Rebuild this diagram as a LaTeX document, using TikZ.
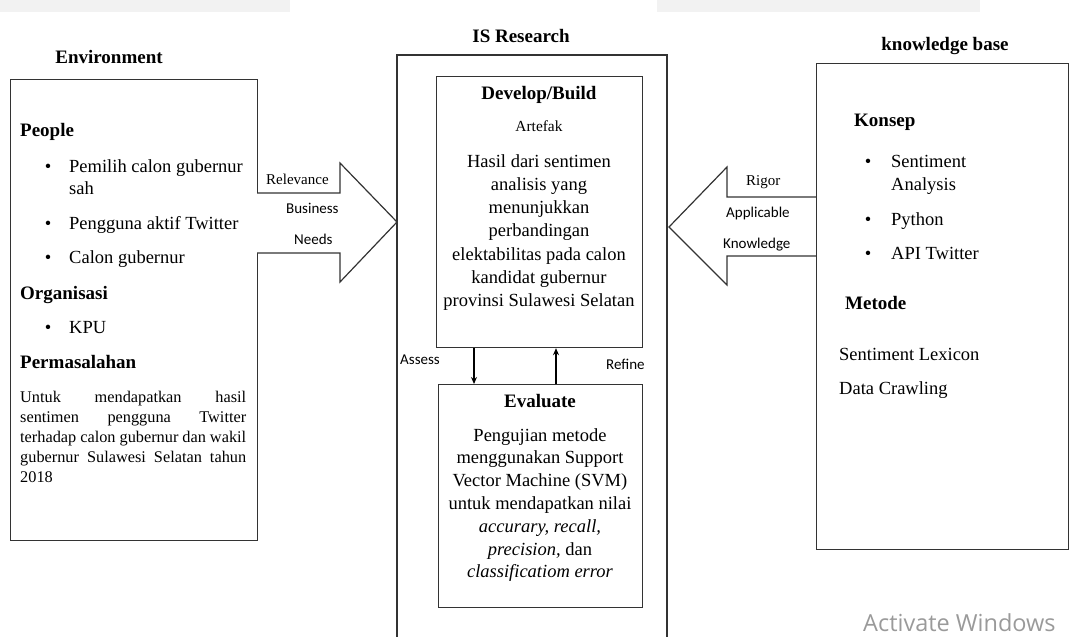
\documentclass[tikz,border=0pt]{standalone}
\usepackage{fontspec}
\setmainfont{Liberation Serif}
\newfontfamily\calibri{Carlito}
\newfontfamily\segoe{Open Sans}
\usetikzlibrary{arrows.meta}
\definecolor{linec}{HTML}{333333}
\definecolor{wm}{HTML}{9A9A9A}
\definecolor{bgband}{HTML}{F2F2F2}
\tikzset{
  box/.style={draw=linec, line width=1.2pt, inner sep=0pt, anchor=north west, fill=white},
  body/.style={inner sep=0pt, anchor=base west, font=\fontsize{18.5}{23}\selectfont},
  bodyc/.style={inner sep=0pt, anchor=base, font=\fontsize{18.5}{23}\selectfont},
  head/.style={inner sep=0pt, anchor=base west, font=\fontsize{19}{23}\selectfont\bfseries},
  headc/.style={inner sep=0pt, anchor=base, font=\fontsize{19}{23}\selectfont\bfseries},
  para/.style={inner sep=0pt, anchor=base west, font=\fontsize{16.3}{20}\selectfont},
  small/.style={inner sep=0pt, anchor=base west, font=\fontsize{15}{18}\selectfont},
  smallsans/.style={inner sep=0pt, anchor=base west, font=\calibri\fontsize{15}{18}\selectfont},
  bul/.style={inner sep=0pt, anchor=base, font=\fontsize{18.5}{23}\selectfont},
  bigarrow/.style={draw=linec, line width=1.2pt, fill=white, line join=miter},
  smallarrow/.style={draw=black, line width=1.2pt, -{Stealth[length=7pt,width=6pt]}}
}
\begin{document}
\begin{tikzpicture}[x=1pt,y=-1pt]
\useasboundingbox (0,0) rectangle (1069,637);
\fill[bgband] (0,0) rectangle (290,12);
\fill[bgband] (657,0) rectangle (980,12);

% ---------- Environment ----------
\node[headc] (envtitle) at (109,63) {Environment};
\node[box, minimum width=247, minimum height=461] (env) at (10,79) {};
\node[head] (people) at (20,136) {People};
\node[bul] (b1) at (48,172) {•};
\node[body] (p1) at (69,172) {Pemilih calon gubernur};
\node[body] (p1b) at (69,194) {sah};
\node[bul] (b2) at (48,229) {•};
\node[body] (p2) at (69,229) {Pengguna aktif Twitter};
\node[bul] (b3) at (48,263) {•};
\node[body] (p3) at (69,263) {Calon gubernur};
\node[head] (org) at (20,299) {Organisasi};
\node[bul] (b4) at (48,333) {•};
\node[body] (kpu) at (69,333) {KPU};
\node[head] (perm) at (20,368) {Permasalahan};
\node[para] (q1) at (20,402) {\makebox[226pt][s]{Untuk mendapatkan hasil}};
\node[para] (q2) at (20,422) {\makebox[226pt][s]{sentimen pengguna Twitter}};
\node[para] (q3) at (20,442) {\makebox[226pt][s]{terhadap calon gubernur dan wakil}};
\node[para] (q4) at (20,462) {\makebox[226pt][s]{gubernur Sulawesi Selatan tahun}};
\node[para] (q5) at (20,482) {2018};

% ---------- IS Research ----------
\node[headc] (istitle) at (521,42) {IS Research};
\coordinate (isbl) at (397,637);
\coordinate (istl) at (397,55);
\coordinate (istr) at (667,55);
\coordinate (isbr) at (667,637);
\draw[linec, line width=1.2pt] (isbl) -- (istl) -- (istr) -- (isbr);

\node[box, minimum width=206, minimum height=271] (dev) at (436,76) {};
\node[headc] (devtitle) at (539,99) {Develop/Build};
\node[inner sep=0pt, anchor=base, font=\fontsize{15.4}{18}\selectfont] (artefak) at (539,131) {Artefak};
\foreach \t [count=\i] in {Hasil dari sentimen, analisis yang, menunjukkan, perbandingan, elektabilitas pada calon, kandidat gubernur, provinsi Sulawesi Selatan}
  \node[bodyc] (dl\i) at (539,{167+23.3*(\i-1)}) {\t};

\node[box, minimum width=204, minimum height=223] (eval) at (438,384) {};
\node[headc] (evaltitle) at (540,407) {Evaluate};
\foreach \t [count=\i] in {Pengujian metode, menggunakan Support, Vector Machine (SVM), untuk mendapatkan nilai, {\textit{accurary, recall,}}, {\textit{precision,} dan}, {\textit{classificatiom error}}}
  \node[bodyc] (el\i) at (540,{441+22.8*(\i-1)}) {\t};

\coordinate (assx) at (474,0);
\coordinate (refx) at (556,0);
\draw[smallarrow] (dev.south -| assx) -- (eval.north -| assx);
\draw[smallarrow] (eval.north -| refx) -- (dev.south -| refx);
\node[smallsans] (assess) at (400,364) {Assess};
\node[smallsans] (refine) at (606,369) {Refine};

% ---------- big arrows ----------
\draw[bigarrow] (257,193) -- (340,193) -- (340,163) -- (397,222) -- (340,282) -- (340,253) -- (257,253);
\node[small] (relev) at (266,184) {Relevance};
\node[smallsans] (busi) at (286,213) {Business};
\node[smallsans] (needs) at (294,244) {Needs};

\draw[bigarrow] (816,197) -- (727,197) -- (727,167) -- (669,227) -- (727,285) -- (727,256) -- (816,256);
\node[small] (rigor) at (746,185) {Rigor};
\node[smallsans] (appl) at (726,217) {Applicable};
\node[smallsans] (know) at (723,248) {Knowledge};

% ---------- knowledge base ----------
\node[headc] (kbtitle) at (945,50) {knowledge base};
\node[box, minimum width=252, minimum height=486] (kb) at (816,63) {};
\node[head] (konsep) at (854,126) {Konsep};
\node[bul] (k1) at (868,167) {•};
\node[body] (s1) at (891,167) {Sentiment};
\node[body] (s1b) at (891,190) {Analysis};
\node[bul] (k2) at (868,225) {•};
\node[body] (s2) at (891,225) {Python};
\node[bul] (k3) at (868,259) {•};
\node[body] (s3) at (891,259) {API Twitter};
\node[head] (metode) at (845,309) {Metode};
\node[body] (m1) at (839,360) {Sentiment Lexicon};
\node[body] (m2) at (839,394) {Data Crawling};

% ---------- watermark ----------
\node[inner sep=0pt, anchor=base west, text=wm, font=\segoe\fontsize{23.5}{26}\selectfont] (activate) at (863,631) {Activate Windows};
\end{tikzpicture}
\end{document}
